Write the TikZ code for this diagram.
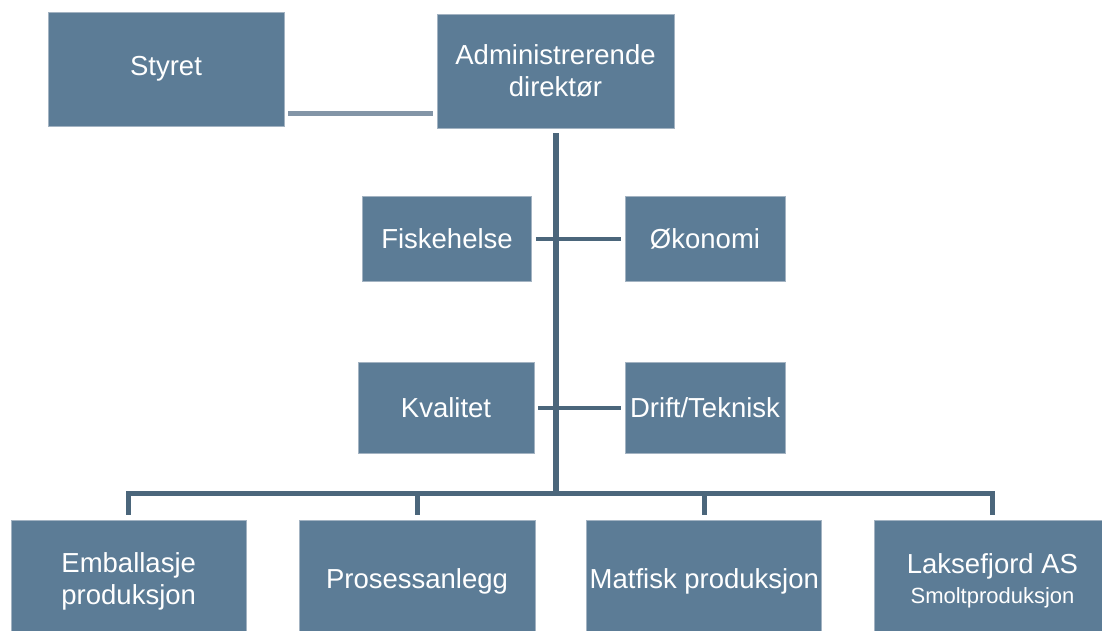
\documentclass[tikz,border=0pt]{standalone}
\usepackage{fontspec}
\setmainfont{Liberation Sans}
\definecolor{boxfill}{HTML}{5C7C96}
\definecolor{boxline}{HTML}{A3B3C2}
\definecolor{trunk}{HTML}{4B667B}
\definecolor{sideline}{HTML}{8395A7}
\begin{document}
\begin{tikzpicture}[x=1pt,y=-1pt,
  orgbox/.style={draw=boxline,line width=0.8pt,fill=boxfill,text=white,
    align=center,inner sep=0pt,font=\fontsize{27.5}{32}\selectfont},
  conn/.style={draw=trunk,line width=4pt},
  smallline/.style={font=\fontsize{22}{26}\selectfont}]
\clip (0,0) rectangle (1102,630);
\fill[white] (0,0) rectangle (1102,630);
% top row
\node[orgbox,minimum width=236pt,minimum height=114pt] (styret) at (166,69) {Styret};
\node[orgbox,minimum width=237pt,minimum height=114pt] (admin) at (555.5,71) {Administrerende\\direktør};
% staff
\node[orgbox,minimum width=169pt,minimum height=85pt] (fisk) at (447,238.5) {Fiskehelse};
\node[orgbox,minimum width=160pt,minimum height=85pt] (okon) at (705,238.5) {Økonomi};
\node[orgbox,minimum width=176pt,minimum height=91pt] (kval) at (446,407.5) {Kvalitet};
\node[orgbox,minimum width=160pt,minimum height=91pt] (drift) at (705,407.5) {Drift/Teknisk};
% bottom row
\node[orgbox,minimum width=235pt,minimum height=122pt] (emb) at (128.7,581) {Emballasje\\produksjon};
\node[orgbox,minimum width=236pt,minimum height=122pt] (pros) at (417,581) {Prosessanlegg};
\node[orgbox,minimum width=235pt,minimum height=122pt] (mat) at (704.3,581) {Matfisk produksjon};
\node[orgbox,minimum width=237pt,minimum height=122pt] (laks) at (992.5,581) {Laksefjord AS\\[-2pt]{\fontsize{22}{26}\selectfont Smoltproduksjon}};
% connectors
\coordinate (bus) at (555.5,493);
\draw[draw=sideline,line width=5pt,shorten <=4pt,shorten >=4pt]
  ([yshift=13pt]styret.south east) -- ([yshift=15pt]admin.south west);
\draw[draw=trunk,line width=6pt,shorten <=5pt] (admin.south) -- (bus);
\draw[draw=trunk,line width=4pt,shorten <=4pt,shorten >=4pt] (fisk.east) -- (okon.west);
\draw[draw=trunk,line width=4pt,shorten <=4pt,shorten >=4pt] (kval.east) -- (drift.west);
\draw[draw=trunk,line width=5pt,line join=miter,shorten <=5pt,shorten >=5pt]
  (emb.north) -- (emb.north |- bus) -- (laks.north |- bus) -- (laks.north);
\draw[draw=trunk,line width=5pt,shorten >=5pt] (pros.north |- bus) -- (pros.north);
\draw[draw=trunk,line width=5pt,shorten >=5pt] (mat.north |- bus) -- (mat.north);
\end{tikzpicture}
\end{document}
